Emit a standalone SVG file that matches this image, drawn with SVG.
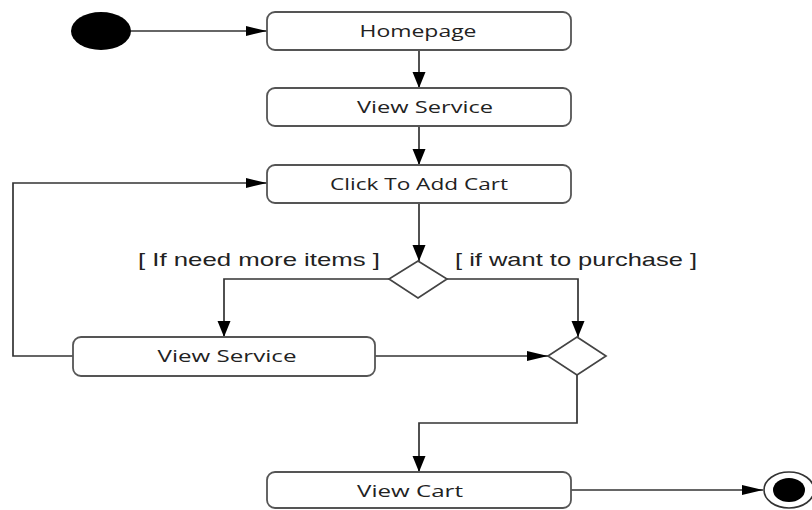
<svg xmlns="http://www.w3.org/2000/svg" width="812" height="510" viewBox="0 0 812 510">
<defs>
<style>
.box{fill:#fff;stroke:#555;stroke-width:1.8}
.dia{fill:#fff;stroke:#444;stroke-width:1.7}
.lbl{font-family:"Open Sans","Liberation Sans",sans-serif;font-size:17px;fill:#222;text-anchor:middle}
.grd{font-family:"Liberation Sans",Arial,sans-serif;font-size:19px;fill:#222}
.con{fill:none;stroke:#333;stroke-width:1.7}
</style>
<marker id="ah" markerUnits="userSpaceOnUse" markerWidth="24" markerHeight="12" refX="21" refY="5" orient="auto">
<path d="M0,0 L21,5 L0,10 z" fill="#000"/>
</marker>
<marker id="av" markerUnits="userSpaceOnUse" markerWidth="18" markerHeight="14" refX="16" refY="6.5" orient="auto">
<path d="M0,0 L16,6.5 L0,13 z" fill="#000"/>
</marker>
</defs>
<rect width="812" height="510" fill="#fff"/>
<g id="connectors">
<path class="con" d="M131,31 H267" marker-end="url(#ah)"/>
<path class="con" d="M419,50 V88" marker-end="url(#av)"/>
<path class="con" d="M419,126 V165" marker-end="url(#av)"/>
<path class="con" d="M419,203 V261" marker-end="url(#av)"/>
<path class="con" d="M389,279 H224 V337" marker-end="url(#av)"/>
<path class="con" d="M447,279 H578 V337" marker-end="url(#av)"/>
<path class="con" d="M375,356 H548" marker-end="url(#ah)"/>
<path class="con" d="M73,356 H13 V183 H267" marker-end="url(#ah)"/>
<path class="con" d="M577,375 V423 H419 V472" marker-end="url(#av)"/>
<path class="con" d="M571,490 H763" marker-end="url(#ah)"/>
<text class="grd" x="138" y="266" textLength="242" lengthAdjust="spacingAndGlyphs">[ If need more items ]</text>
<text class="grd" x="455" y="266" textLength="242" lengthAdjust="spacingAndGlyphs">[ if want to purchase ]</text>
</g>
<g id="start"><ellipse cx="101" cy="31" rx="30" ry="19" fill="#000"/></g>
<g id="homepage"><rect class="box" x="267" y="12" width="304" height="38" rx="8"/><text class="lbl" x="418" y="37" textLength="117" lengthAdjust="spacingAndGlyphs">Homepage</text></g>
<g id="viewService1"><rect class="box" x="267" y="88" width="304" height="38" rx="8"/><text class="lbl" x="425" y="113" textLength="136" lengthAdjust="spacingAndGlyphs">View Service</text></g>
<g id="clickToAddCart"><rect class="box" x="267" y="165" width="304" height="38" rx="8"/><text class="lbl" x="419" y="190" textLength="178" lengthAdjust="spacingAndGlyphs">Click To Add Cart</text></g>
<g id="decision1"><path class="dia" d="M418,261 L447,279 L418,298 L389,279 z"/></g>
<g id="viewService2"><rect class="box" x="73" y="337" width="302" height="39" rx="8"/><text class="lbl" x="227" y="362" textLength="139" lengthAdjust="spacingAndGlyphs">View Service</text></g>
<g id="decision2"><path class="dia" d="M577,337 L606,356 L577,375 L548,356 z"/></g>
<g id="viewCart"><rect class="box" x="267" y="472" width="304" height="36" rx="8"/><text class="lbl" x="410" y="497" textLength="106" lengthAdjust="spacingAndGlyphs">View Cart</text></g>
<g id="end"><ellipse cx="789" cy="490" rx="25" ry="18" fill="#fff" stroke="#333" stroke-width="1.6"/><ellipse cx="789" cy="490" rx="16" ry="12" fill="#000"/></g>
</svg>
